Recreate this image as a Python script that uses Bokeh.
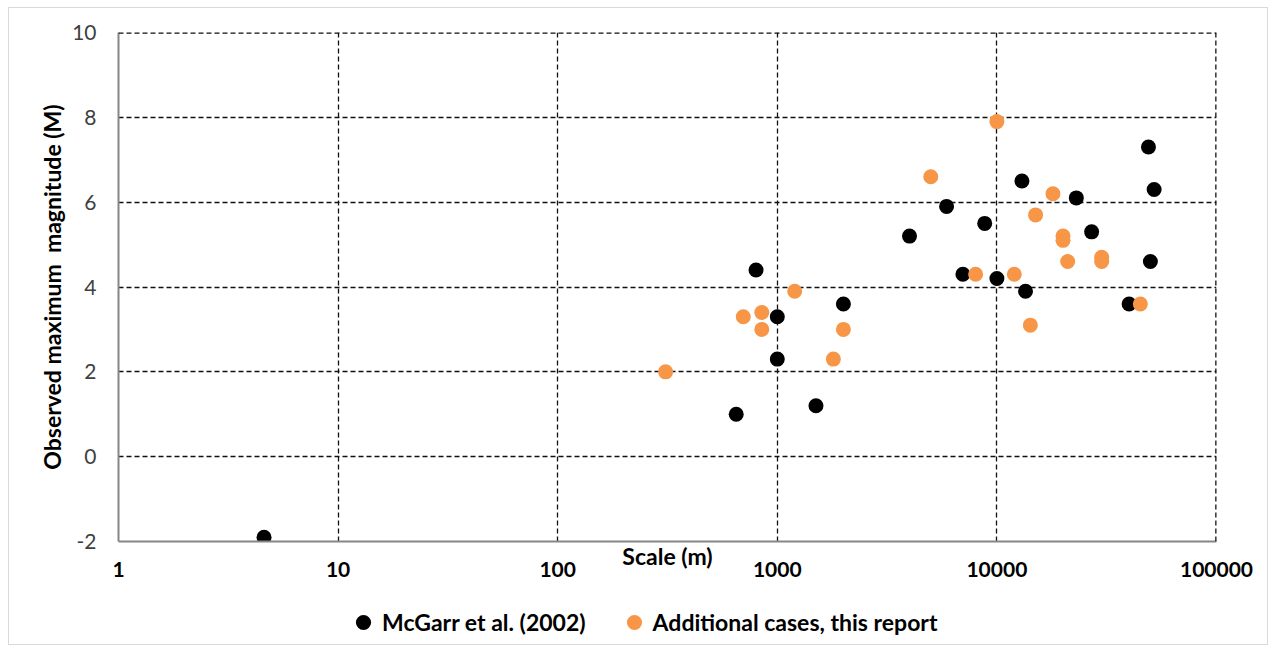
from bokeh.plotting import figure
from bokeh.layouts import column
from bokeh.models import (Range1d, FixedTicker, NumeralTickFormatter, Legend,
                          LegendItem, Span, ColumnDataSource)
from bokeh.embed import file_html
from bokeh.resources import INLINE

# ---- data ----
mcgarr_scale = [4.6, 650, 800, 1000, 1000, 1500, 2000, 4000, 5900, 7000,
                8800, 10000, 13000, 13500, 23000, 27000, 40000, 49000, 52000, 50000]
mcgarr_mag = [-1.9, 1.0, 4.4, 3.3, 2.3, 1.2, 3.6, 5.2, 5.9, 4.3,
              5.5, 4.2, 6.5, 3.9, 6.1, 5.3, 3.6, 7.3, 6.3, 4.6]

added_scale = [310, 700, 850, 850, 1200, 1800, 2000, 5000, 8000, 10000,
               12000, 14200, 15000, 18000, 20000, 20000, 21000, 30000, 30000, 45000]
added_mag = [2.0, 3.3, 3.4, 3.0, 3.9, 2.3, 3.0, 6.6, 4.3, 7.9,
             4.3, 3.1, 5.7, 6.2, 5.2, 5.1, 4.6, 4.7, 4.6, 3.6]

x_ticks = [1, 10, 100, 1000, 10000, 100000]
y_ticks = [-2, 0, 2, 4, 6, 8, 10]

series_names = ["McGarr et al. (2002)", "Additional cases, this report"]
series_colors = ["#000000", "#F79646"]

FONT = "Lato"
GRID_COLOR = "#111111"
GRID_DASH = "5 3"

p = figure(width=1258, height=592, x_axis_type="log",
           x_range=Range1d(1, 100000), y_range=Range1d(-2, 10),
           output_backend="svg", toolbar_location=None,
           min_border_left=109, min_border_right=51,
           min_border_top=24, min_border_bottom=59)
p.outline_line_color = None
p.background_fill_color = "white"
p.border_fill_color = "white"

src1 = ColumnDataSource(dict(x=mcgarr_scale, y=mcgarr_mag))
src2 = ColumnDataSource(dict(x=added_scale, y=added_mag))
r1 = p.scatter("x", "y", source=src1, size=15, color=series_colors[0], line_color=None)
r2 = p.scatter("x", "y", source=src2, size=15, color=series_colors[1], line_color=None)

# axes
p.xaxis.ticker = FixedTicker(ticks=x_ticks)
p.xaxis.formatter = NumeralTickFormatter(format="0")
p.yaxis.ticker = FixedTicker(ticks=y_ticks)
p.yaxis.formatter = NumeralTickFormatter(format="0")
for ax in (p.xaxis[0], p.yaxis[0]):
    ax.axis_line_color = "#868686"
    ax.axis_line_width = 2
    ax.major_tick_line_color = None
    ax.minor_tick_line_color = None
    ax.major_tick_out = 0
    ax.major_tick_in = 0
    ax.major_label_text_font = FONT
    ax.major_label_text_font_size = "21px"

p.xaxis.major_label_text_font_style = "bold"
p.xaxis.major_label_text_color = "#000000"
p.xaxis.major_label_standoff = 20
p.xaxis.axis_label = "Scale (m)"
p.xaxis.axis_label_text_font = FONT
p.xaxis.axis_label_text_font_size = "23px"
p.xaxis.axis_label_text_font_style = "bold"
p.xaxis.axis_label_text_color = "#000000"
p.xaxis.axis_label_standoff = -38

p.yaxis.major_label_text_color = "#404040"
p.yaxis.major_label_standoff = 22
p.yaxis.axis_label = "Observed maximum \u00a0magnitude (M)"
p.yaxis.axis_label_text_font = FONT
p.yaxis.axis_label_text_font_size = "23px"
p.yaxis.axis_label_text_font_style = "bold"
p.yaxis.axis_label_text_color = "#000000"
p.yaxis.axis_label_standoff = 3

# grid
for g in (p.xgrid[0], p.ygrid[0]):
    g.grid_line_color = GRID_COLOR
    g.grid_line_dash = GRID_DASH
    g.grid_line_width = 1.3
p.xgrid.ticker = FixedTicker(ticks=x_ticks)
p.ygrid.ticker = FixedTicker(ticks=y_ticks)
# top and right grid lines at the range ends (half is clipped by the frame)
p.add_layout(Span(location=y_ticks[-1], dimension="width", line_color=GRID_COLOR,
                  line_dash=GRID_DASH, line_width=2.6))
p.add_layout(Span(location=x_ticks[-1], dimension="height", line_color=GRID_COLOR,
                  line_dash=GRID_DASH, line_width=2.6))

# ---- legend strip below the chart (same data, outside this strip's view) ----
lf = figure(width=1258, height=44, x_range=Range1d(0, 1), y_range=Range1d(0, 1),
            x_axis_location=None, y_axis_location=None,
            output_backend="svg", toolbar_location=None,
            min_border_left=0, min_border_right=0, min_border_top=0, min_border_bottom=0)
lf.grid.visible = False
lf.outline_line_color = None
lf.background_fill_color = "white"
lf.border_fill_color = "white"
l1 = lf.scatter("x", "y", source=src1, size=15, color=series_colors[0], line_color=None)
l2 = lf.scatter("x", "y", source=src2, size=15, color=series_colors[1], line_color=None)

legend = Legend(items=[LegendItem(label=series_names[0], renderers=[l1]),
                       LegendItem(label=series_names[1], renderers=[l2])],
                location=(226, 3), orientation="horizontal",
                padding=0, margin=0, spacing=29, label_standoff=0,
                glyph_width=38, glyph_height=38,
                label_text_font=FONT, label_text_font_size="23px",
                label_text_font_style="bold", label_text_color="#000000",
                border_line_color=None, background_fill_alpha=0)
lf.add_layout(legend, "center")

layout = column(p, lf, spacing=0)
layout.styles = {"border": "1px solid #d9d9d9", "margin-left": "8px", "margin-top": "7px",
                 "width": "1260px"}

open("out.html", "w").write(file_html(layout, INLINE))
